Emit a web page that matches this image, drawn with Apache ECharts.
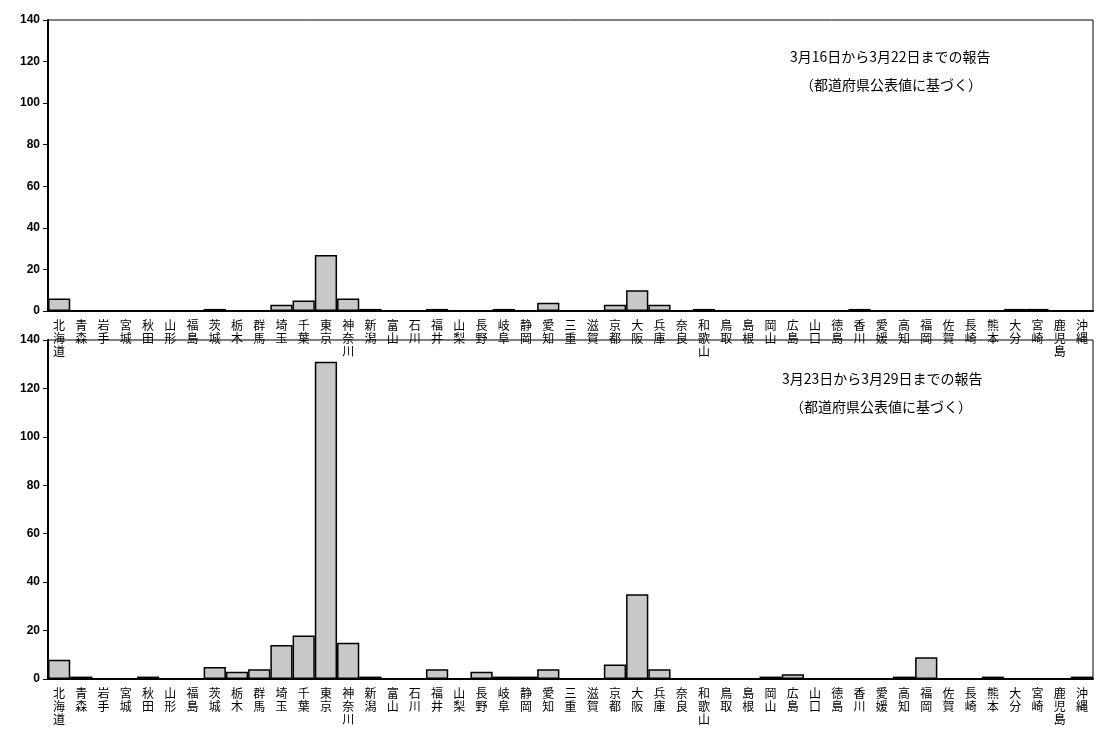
<!DOCTYPE html>
<html>
<head>
<meta charset="utf-8">
<script src="https://cdn.jsdelivr.net/npm/echarts@6/dist/echarts.min.js"></script>
<style>body{margin:0;background:#fff}#chart{width:1116px;height:751px}</style>
</head>
<body>
<div id="chart"></div>
<script>
var prefectures = ['北海道','青森','岩手','宮城','秋田','山形','福島','茨城','栃木','群馬','埼玉','千葉','東京','神奈川','新潟','富山','石川','福井','山梨','長野','岐阜','静岡','愛知','三重','滋賀','京都','大阪','兵庫','奈良','和歌山','鳥取','島根','岡山','広島','山口','徳島','香川','愛媛','高知','福岡','佐賀','長崎','熊本','大分','宮崎','鹿児島','沖縄'];
var week1 = [6,0,0,0,0,0,0,1,0,0,3,5,27,6,1,0,0,1,0,0,1,0,4,0,0,3,10,3,0,1,0,0,0,0,0,0,1,0,0,0,0,0,0,1,1,0,0];
var week2 = [8,1,0,0,1,0,0,5,3,4,14,18,131,15,1,0,0,4,0,3,1,1,4,0,0,6,35,4,0,0,0,0,1,2,0,0,0,0,1,9,0,0,1,0,0,0,1];
var yTicks = [0,20,40,60,80,100,120,140];

var myChart = echarts.init(document.getElementById('chart'));
function xAxis(idx) {
    return {
        type: 'category', gridIndex: idx, data: prefectures,
        axisLine: {lineStyle: {color: '#000', width: 2}},
        axisTick: {interval: 0, lineStyle: {color: '#000'}},
        axisLabel: {
            interval: 0, color: '#000', fontSize: 12, lineHeight: 13,
            fontFamily: 'Noto Sans CJK JP',
            formatter: function (v) { return v.split('').join('\n'); }
        }
    };
}
function yAxis(idx) {
    return {
        type: 'value', gridIndex: idx, min: 0, max: 140, interval: 20,
        splitLine: {show: false},
        axisLine: {show: true, lineStyle: {color: '#000', width: 2}},
        axisTick: {show: true, lineStyle: {color: '#000'}},
        axisLabel: {color: '#000', fontSize: 12, fontWeight: 'bold',
            formatter: function (v) { return yTicks.indexOf(v) >= 0 ? v : ''; }}
    };
}
function bars(idx, data) {
    return {
        type: 'bar', xAxisIndex: idx, yAxisIndex: idx, data: data,
        barCategoryGap: '0%',
        itemStyle: {color: '#c8c8c8', borderColor: '#000', borderWidth: 1.5}
    };
}
var option = {
    animation: false,
    grid: [
        {left: 48, right: 23, top: 20, height: 291, show: true, borderColor: '#000', borderWidth: 1},
        {left: 48, right: 23, top: 340, height: 339, show: true, borderColor: '#000', borderWidth: 1}
    ],
    xAxis: [xAxis(0), xAxis(1)],
    yAxis: [yAxis(0), yAxis(1)],
    series: [bars(0, week1), bars(1, week2)],
    graphic: [
        {type: 'text', left: 790, top: 50, style: {text: '3月16日から3月22日までの報告', font: '14px "Noto Sans CJK JP"', fill: '#000'}},
        {type: 'text', left: 800, top: 78, style: {text: '（都道府県公表値に基づく）', font: '14px "Noto Sans CJK JP"', fill: '#000'}},
        {type: 'text', left: 782, top: 372, style: {text: '3月23日から3月29日までの報告', font: '14px "Noto Sans CJK JP"', fill: '#000'}},
        {type: 'text', left: 790, top: 400, style: {text: '（都道府県公表値に基づく）', font: '14px "Noto Sans CJK JP"', fill: '#000'}}
    ]
};
myChart.setOption(option);
</script>
</body>
</html>
